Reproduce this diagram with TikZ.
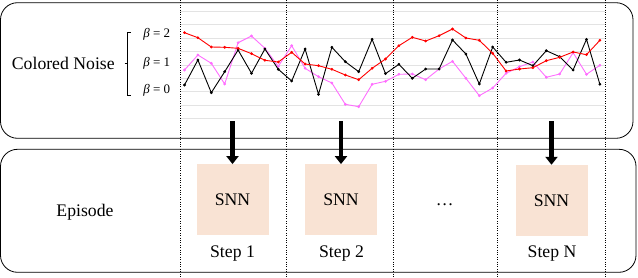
\documentclass[tikz,border=0pt]{standalone}
\usepackage{fontspec}
\setmainfont{Liberation Serif}
\usetikzlibrary{arrows.meta}
\definecolor{snnfill}{RGB}{249,227,212}
\definecolor{noisepink}{RGB}{255,110,255}

\begin{document}
\begin{tikzpicture}[x=1pt, y=-1pt,
	snn/.style={ fill=snnfill, inner sep=0pt, minimum width=72pt, minimum height=71pt, font=\fontsize{17.7}{20}\selectfont },
	txt/.style={ anchor=base, inner sep=0pt, font=\fontsize{17.7}{20}\selectfont },
	betalbl/.style={ anchor=base, inner sep=0pt, font=\fontsize{13}{15}\selectfont },
	panel/.style={ draw, line width=0.8pt, rounded corners=17pt },
	sep/.style={ line width=0.6pt, dash pattern=on 1pt off 1.4pt },
	bigarrow/.style={ line width=4.5pt, -{Triangle[width=12pt,length=8pt]} },
	series/.style={ line width=0.9pt, mark=*, mark size=0.9pt }
]
\useasboundingbox (0,0) rectangle (638,278);

\draw[panel] (0.5,2.7) rectangle (633,138.3);
\draw[panel] (0.5,149.3) rectangle (636,272.3);

\foreach \k in {0,...,8}
	\draw[gray!22, line width=0.8pt] (180,{11.5+13.4*\k}) -- (605,{11.5+13.4*\k});
\foreach \x in {180,286,393,497,605}
	\draw[sep] (\x,0) -- (\x,278);

\begin{scope}[x=13.4pt, xshift=184.5pt]
\draw[series, noisepink] plot coordinates {(0,70) (1,55) (2,63.3) (3,84) (4,42.7) (5,36) (6,48.3) (7,66.3) (8,45.7) (9,68.3) (10,76.7) (11,83) (12,104.3) (13,106.7) (14,84.3) (15,81.3) (16,74.3) (17,74) (18,79.7) (19,69) (20,61.3) (21,78.3) (22,95.7) (23,88) (24,73.3) (25,66.7) (26,62) (27,77.3) (28,74) (29,52.7) (30,74.3) (31,65.3)};
\draw[series, black] plot coordinates {(0,85) (1,60) (2,92.7) (3,71.7) (4,50) (5,73.3) (6,49) (7,69.3) (8,81) (9,49) (10,94.3) (11,47.3) (12,61.7) (13,71.7) (14,39.3) (15,73.7) (16,64.3) (17,78.3) (18,69) (19,69) (20,40) (21,54) (22,84) (23,47) (24,62.3) (25,60) (26,65.7) (27,50.7) (28,56.7) (29,70) (30,39.3) (31,84.3)};
\draw[series, red] plot coordinates {(0,32.7) (1,37.7) (2,47) (3,47.3) (4,48.3) (5,53.7) (6,60.3) (7,62) (8,52.3) (9,64) (10,65.7) (11,69.3) (12,75) (13,79.7) (14,68.3) (15,59) (16,45.7) (17,37.3) (18,41) (19,35.7) (20,29) (21,38) (22,40.3) (23,53.3) (24,71) (25,69) (26,67.7) (27,60.7) (28,57.3) (29,52) (30,54.7) (31,40.3)};
\end{scope}

\node at (63.3,69.3) (noise) [txt] {Colored Noise};
\draw[line width=0.8pt] (130.7,32.3) -- (127.7,32.3) -- (127.7,95) -- (130.7,95);
\draw[line width=0.8pt] (124.7,63.5) -- (127.7,63.5);
\node at (156.7,38) (b2) [betalbl] {\textit{β} = 2};
\node at (156.7,66.7) (b1) [betalbl] {\textit{β} = 1};
\node at (156.7,94) (b0) [betalbl] {\textit{β} = 0};

\node at (85,216.7) (episode) [txt] {Episode};
\node at (232.5,199.8) (snn1) [snn] {SNN};
\node at (341,199.8) (snn2) [snn] {SNN};
\node at (444.7,205) (dots) [txt] {…};
\node at (551.5,200.5) (snnN) [snn] {SNN};
\node at (232.5,257.7) (step1) [txt] {Step 1};
\node at (341.5,257.7) (step2) [txt] {Step 2};
\node at (552,257.7) (stepN) [txt] {Step N};

\coordinate (a1) at (232.5,121.5);
\coordinate (a2) at (341,121.5);
\coordinate (aN) at (551.5,121.5);
\draw[bigarrow] (a1) -- (snn1);
\draw[bigarrow] (a2) -- (snn2);
\draw[bigarrow] (aN) -- (snnN);

\end{tikzpicture}
\end{document}
